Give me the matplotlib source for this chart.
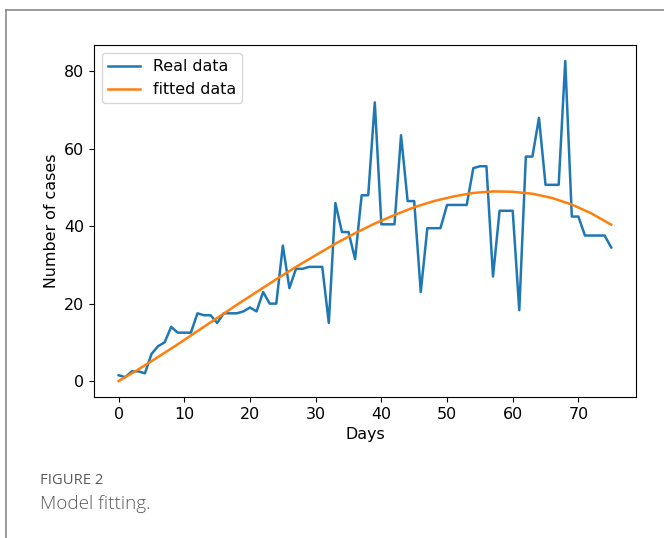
import matplotlib
matplotlib.use("Agg")
from matplotlib import pyplot as plt
from matplotlib.lines import Line2D

# daily reported cases
days = list(range(76))
cases = [1.5, 1, 2.5, 2.5, 2, 7, 9, 10, 14, 12.5,
         12.5, 12.5, 17.5, 17, 17, 15, 17.5, 17.5, 17.5, 18,
         19, 18, 23, 20, 20, 35, 24, 29, 29, 29.5,
         29.5, 29.5, 15, 46, 38.5, 38.5, 31.5, 48, 48, 72,
         40.5, 40.5, 40.5, 63.5, 46.5, 46.5, 23, 39.5, 39.5, 39.5,
         45.5, 45.5, 45.5, 45.5, 55, 55.5, 55.5, 27, 44, 44,
         44, 18.3, 58, 58, 68, 50.7, 50.7, 50.7, 82.7, 42.5,
         42.5, 37.6, 37.6, 37.6, 37.6, 34.5]

# fitted curve, sampled every 3 days
fit_days = list(range(0, 76, 3))
fit_vals = [0, 3.0, 6.2, 9.5, 12.9, 16.3, 19.7, 23.0, 26.3, 29.5,
            32.5, 35.5, 38.2, 40.7, 42.9, 44.9, 46.5, 47.7, 48.6, 49.0,
            48.9, 48.4, 47.3, 45.6, 43.3, 40.4]

plt.rcParams['font.size'] = 11.4

fig = plt.figure(figsize=(6.64, 5.38), dpi=100)
ax = fig.add_axes([0.1416, 0.262, 0.816, 0.6544])
ax.plot(days, cases, color='#1f77b4', lw=1.8, label='Real data')
ax.plot(fit_days, fit_vals, color='#ff7f0e', lw=1.8, label='fitted data')
ax.set_xlabel('Days')
ax.set_ylabel('Number of cases')
ax.set_xticks(range(0, 80, 10))
ax.set_yticks(range(0, 100, 20))
ax.legend(loc='upper left')

# page frame and caption
fig.add_artist(Line2D([6 / 664, 1], [1 - 10 / 538, 1 - 10 / 538], color='#8a8a8a', lw=1.2))
fig.add_artist(Line2D([6 / 664, 6 / 664], [0, 1 - 10 / 538], color='#8a8a8a', lw=1.2))
fig.text(40 / 664, 1 - 480 / 538, 'FIGURE 2', family='Open Sans', fontsize=10.6,
         color='#5a5a5a', va='center')
fig.text(40 / 664, 1 - 504 / 538, 'Model fitting.', family='Open Sans', fontsize=13.6,
         color='#5a5a5a', va='center', fontweight='light')

fig.savefig('out.png', dpi=100)
